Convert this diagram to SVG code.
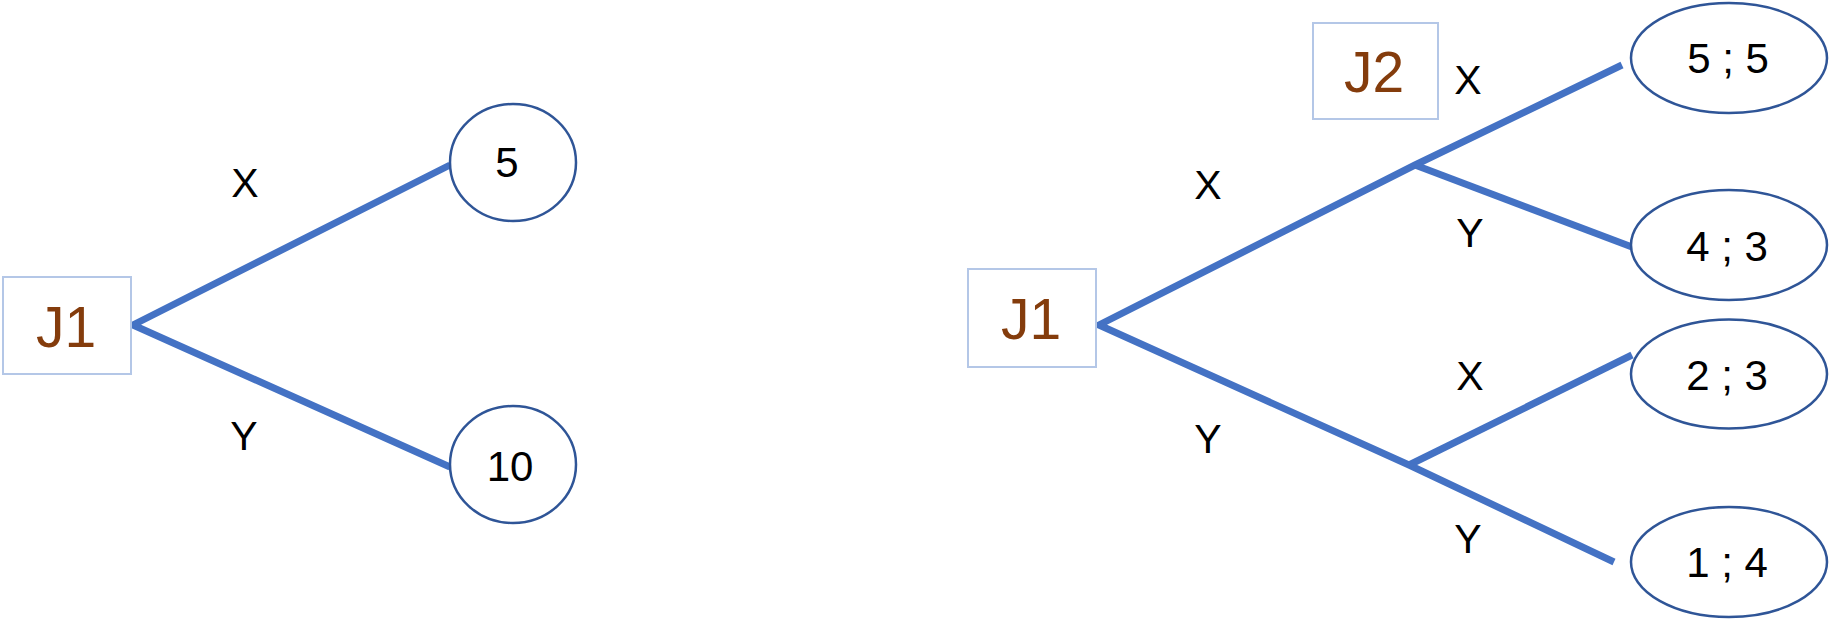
<svg xmlns="http://www.w3.org/2000/svg" width="1829" height="620" viewBox="0 0 1829 620">
<style>
.bg{fill:#ffffff}
.box{fill:#ffffff;stroke:#B4C7E7;stroke-width:2}
.leaf{fill:#ffffff;stroke:#2F5597;stroke-width:2.5}
.edge{fill:none;stroke:#4472C4;stroke-width:7;stroke-linejoin:miter}
.pl{font-family:"Liberation Sans",Arial,sans-serif;font-size:57px;fill:#843C0C;text-anchor:middle}
.val{font-family:"Liberation Sans",Arial,sans-serif;font-size:42px;fill:#000000;text-anchor:middle}
.lbl{font-family:"Liberation Sans",Arial,sans-serif;font-size:41px;fill:#000000;text-anchor:middle}
</style>
<rect class="bg" x="0" y="0" width="1829" height="620"/>
<g id="connectors">
  <polyline class="edge" points="450,165 133,325 450,467"/>
  <polyline class="edge" points="1622,65 1415,165 1099,325 1409,465 1614,562"/>
  <line class="edge" x1="1415" y1="165" x2="1632" y2="247"/>
  <line class="edge" x1="1409" y1="465" x2="1632" y2="355"/>
</g>
<g id="labels">
  <text class="lbl" x="245" y="197">X</text>
  <text class="lbl" x="244" y="450">Y</text>
  <text class="lbl" x="1208" y="199">X</text>
  <text class="lbl" x="1208" y="453">Y</text>
  <text class="lbl" x="1468" y="94">X</text>
  <text class="lbl" x="1470" y="247">Y</text>
  <text class="lbl" x="1470" y="390">X</text>
  <text class="lbl" x="1468" y="553">Y</text>
</g>
<g id="left-J1">
  <rect class="box" x="3" y="277" width="128" height="97"/>
  <text class="pl" x="66" y="347">J1</text>
</g>
<g id="left-leaf-5">
  <ellipse class="leaf" cx="513" cy="162.5" rx="63" ry="58.5"/>
  <text class="val" x="507" y="177">5</text>
</g>
<g id="left-leaf-10">
  <ellipse class="leaf" cx="513" cy="464.5" rx="63" ry="58.5"/>
  <text class="val" x="510" y="481">10</text>
</g>
<g id="right-J1">
  <rect class="box" x="968" y="269" width="128" height="98"/>
  <text class="pl" x="1031" y="339">J1</text>
</g>
<g id="J2">
  <rect class="box" x="1313" y="23" width="125" height="96"/>
  <text class="pl" x="1374" y="92">J2</text>
</g>
<g id="leaf-5-5">
  <ellipse class="leaf" cx="1729" cy="58" rx="98" ry="55"/>
  <text class="val" x="1728" y="73">5 ; 5</text>
</g>
<g id="leaf-4-3">
  <ellipse class="leaf" cx="1729" cy="245" rx="98" ry="55"/>
  <text class="val" x="1727" y="261">4 ; 3</text>
</g>
<g id="leaf-2-3">
  <ellipse class="leaf" cx="1729" cy="374" rx="98" ry="54.5"/>
  <text class="val" x="1727" y="390">2 ; 3</text>
</g>
<g id="leaf-1-4">
  <ellipse class="leaf" cx="1729" cy="562" rx="98" ry="55"/>
  <text class="val" x="1727" y="577">1 ; 4</text>
</g>
</svg>
